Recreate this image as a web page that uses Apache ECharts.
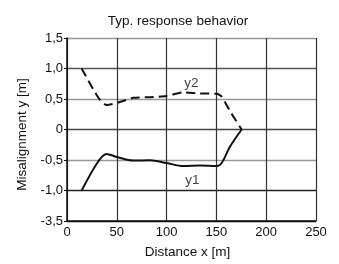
<!DOCTYPE html>
<html>
<head>
<meta charset="utf-8">
<script src="https://cdn.jsdelivr.net/npm/echarts@6/dist/echarts.min.js"></script>
<style>
  html, body { margin: 0; padding: 0; background: #fff; }
  #chart { width: 339px; height: 264px; }
</style>
</head>
<body>
<div id="chart"></div>
<script>
// data
const y1Data = [[14.7, -1.0], [31.5, -0.52], [39.8, -0.40], [49.9, -0.45], [66.6, -0.51],
  [83.3, -0.505], [100, -0.55], [116.8, -0.60], [133.5, -0.59], [150.3, -0.60],
  [155.3, -0.55], [163.7, -0.28], [175.4, 0]];
const y2Data = [[14.7, 1.0], [31.5, 0.52], [39.8, 0.40], [53, 0.45], [66.6, 0.52],
  [83.3, 0.53], [100, 0.55], [116.8, 0.61], [133.5, 0.59], [150.3, 0.585],
  [155.3, 0.54], [163.7, 0.30], [175.4, 0]];
const curveLabels = [[125, 0.75, "y2"], [126, -0.83, "y1"]];
// the bottom tick reads -3,5 on the original
const yTickText = { "-1.5": "-3,5" };

const font = '"Liberation Sans", Arial, sans-serif';
const chart = echarts.init(document.getElementById("chart"), null, { renderer: "canvas" });

chart.setOption({
  animation: false,
  title: {
    text: "Typ. response behavior",
    left: 173,
    textAlign: "center",
    top: 9,
    textStyle: { fontFamily: font, fontSize: 13.5, fontWeight: "normal", color: "#111" }
  },
  grid: { left: 67, right: 23, top: 38, bottom: 38 },
  xAxis: {
    type: "value",
    min: 0,
    max: 250,
    interval: 50,
    name: "Distance x [m]",
    nameLocation: "middle",
    nameGap: 24,
    nameTextStyle: { fontFamily: font, fontSize: 13.5, color: "#111", padding: [0, 8, 0, 0] },
    axisLine: { show: true, onZero: false, lineStyle: { color: "#111", width: 1.5 } },
    axisTick: { show: false },
    axisLabel: { fontFamily: font, fontSize: 13, color: "#111", margin: 5 },
    splitLine: { show: true, lineStyle: { color: "#333", width: 1.2 } }
  },
  yAxis: {
    type: "value",
    min: -1.5,
    max: 1.5,
    interval: 0.5,
    name: "Misalignment y [m]",
    nameLocation: "middle",
    nameGap: 33,
    nameTextStyle: { fontFamily: font, fontSize: 13.5, color: "#111", padding: [0, 10, 0, 0] },
    axisLine: { show: true, onZero: false, lineStyle: { color: "#111", width: 1.5 } },
    axisTick: { show: true, length: 3, lineStyle: { color: "#111" } },
    axisLabel: {
      fontFamily: font, fontSize: 13, color: "#111", margin: 4,
      formatter: v => yTickText[String(v)] || (v === 0 ? "0" : v.toFixed(1).replace(".", ","))
    },
    splitLine: {
      show: true,
      lineStyle: { color: ["#111", "#222", "#999", "#444", "#999", "#555", "#999"], width: 1.3 }
    }
  },
  series: [
    {
      name: "y1",
      type: "line",
      data: y1Data,
      smooth: 0.35,
      symbol: "none",
      lineStyle: { color: "#111", width: 2 }
    },
    {
      name: "y2",
      type: "line",
      data: y2Data,
      smooth: 0.2,
      symbol: "none",
      lineStyle: { color: "#111", width: 2, type: [9, 5] }
    },
    {
      type: "scatter",
      data: curveLabels,
      symbolSize: 0,
      label: {
        show: true,
        position: "inside",
        formatter: p => p.data[2],
        fontFamily: font,
        fontSize: 13.5,
        color: "#111"
      }
    }
  ]
});
</script>
</body>
</html>
